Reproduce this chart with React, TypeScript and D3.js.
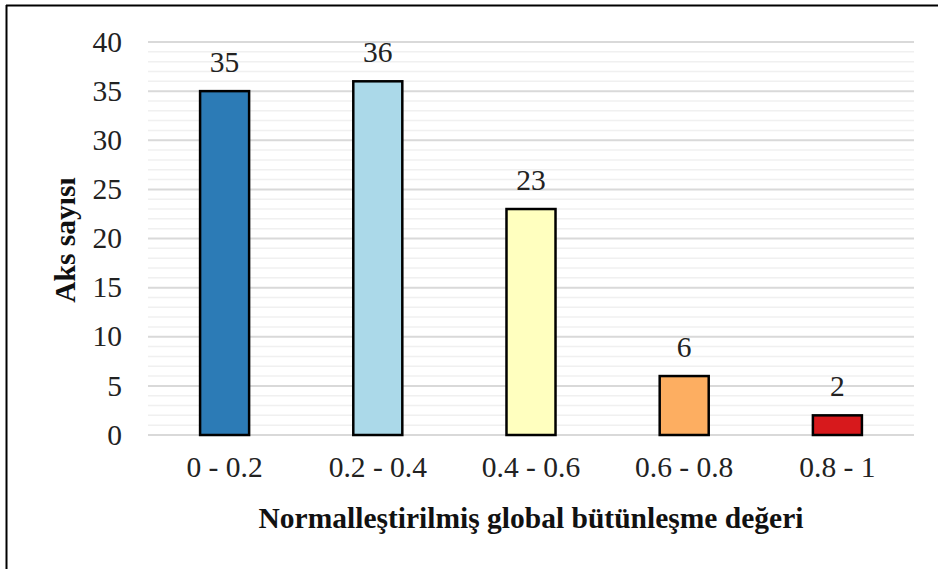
import React from "react";
import * as d3 from "d3";

const categories = ["0 - 0.2", "0.2 - 0.4", "0.4 - 0.6", "0.6 - 0.8", "0.8 - 1"];
const values = [35, 36, 23, 6, 2];
const colors = ["#2C7BB6", "#ABD9E9", "#FFFFBF", "#FDAE61", "#D7191C"];
const yTicks = [0, 5, 10, 15, 20, 25, 30, 35, 40];
const minorTicks = d3.range(0, 41, 1);

const W = 938;
const H = 569;
const margin = { left: 148, right: 24, top: 42, bottom: 134 };
const FS = 29.5;

export default function App() {
  const x = d3
    .scaleBand<string>()
    .domain(categories)
    .range([margin.left, W - margin.right])
    .paddingInner(0.68)
    .paddingOuter(0.34);
  const y = d3.scaleLinear().domain([0, 40]).range([H - margin.bottom, margin.top]);
  const font = "Liberation Serif, Times New Roman, serif";
  return (
    <svg width={W} height={H} style={{ position: "absolute", left: 0, top: 0, fontFamily: font }}>
      <rect x={0} y={0} width={W} height={H} fill="#fff" />
      <line x1={6.5} x2={6.5} y1={5} y2={H} stroke="#000" strokeWidth={2} />
      <line x1={6} x2={W} y1={5.5} y2={5.5} stroke="#000" strokeWidth={2} />
      {minorTicks
        .filter((t) => t % 5 !== 0)
        .map((t) => (
          <line key={"m" + t} x1={margin.left} x2={W - margin.right} y1={y(t)} y2={y(t)} stroke="#F0F0F0" strokeWidth={1.5} />
        ))}
      {yTicks.map((t) => (
        <line key={"g" + t} x1={margin.left} x2={W - margin.right} y1={y(t)} y2={y(t)} stroke="#D9D9D9" strokeWidth={2} />
      ))}
      {yTicks.map((t) => (
        <text key={"t" + t} x={122} y={y(t)} dy="0.33em" textAnchor="end" fontSize={FS} fill="#222">
          {t}
        </text>
      ))}
      {categories.map((c, i) => (
        <g key={c}>
          <rect
            x={x(c)!}
            y={y(values[i])}
            width={x.bandwidth()}
            height={y(0) - y(values[i])}
            fill={colors[i]}
            stroke="#000"
            strokeWidth={2.5}
          />
          <text x={x(c)! + x.bandwidth() / 2} y={y(values[i]) - 19} textAnchor="middle" fontSize={FS} fill="#222">
            {values[i]}
          </text>
          <text x={x(c)! + x.bandwidth() / 2} y={477} textAnchor="middle" fontSize={FS} fill="#222">
            {c}
          </text>
        </g>
      ))}
      <text x={531} y={528} textAnchor="middle" fontSize={FS} fontWeight="bold" fill="#111">
        Normalleştirilmiş global bütünleşme değeri
      </text>
      <text
        transform={`translate(75, ${240}) rotate(-90)`}
        textAnchor="middle"
        fontSize={FS}
        fontWeight="bold"
        fill="#111"
      >
        Aks sayısı
      </text>
    </svg>
  );
}
